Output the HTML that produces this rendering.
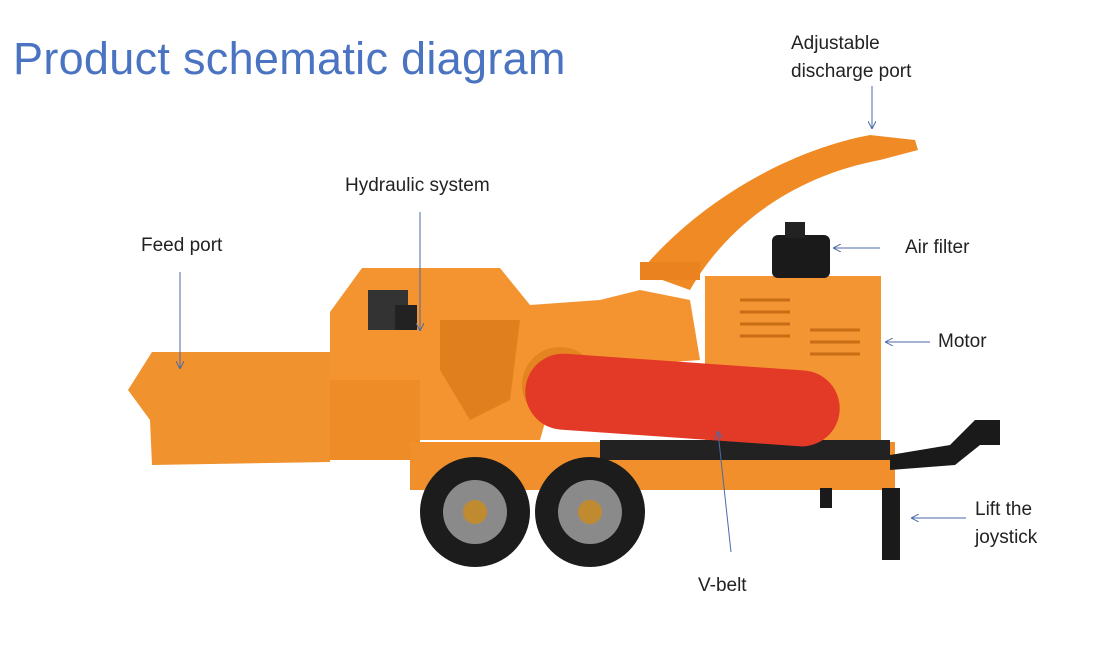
<!DOCTYPE html>
<html><head><meta charset="utf-8"><style>
html,body{margin:0;padding:0;background:#fff;}
body{width:1095px;height:667px;overflow:hidden;position:relative;font-family:"Liberation Sans",sans-serif;}
.t{position:absolute;color:#222;font-size:19px;line-height:28px;}
h1{position:absolute;left:13px;top:33px;margin:0;font-weight:normal;font-size:45px;color:#4a74c2;letter-spacing:0.3px;}
</style></head><body>
<h1>Product schematic diagram</h1>
<div class="t" style="left:791px;top:30px">Adjustable<br>discharge port</div>
<div class="t" style="left:345px;top:172px">Hydraulic system</div>
<div class="t" style="left:141px;top:232px">Feed port</div>
<div class="t" style="left:905px;top:234px">Air filter</div>
<div class="t" style="left:938px;top:328px">Motor</div>
<div class="t" style="left:975px;top:496px">Lift the<br>joystick</div>
<div class="t" style="left:698px;top:572px">V-belt</div>
<svg width="1095" height="667" style="position:absolute;left:0;top:0">
<defs><marker id="a" markerWidth="8" markerHeight="8" refX="7" refY="4" orient="auto"><path d="M0,0 L8,4 L0,8" fill="none" stroke="#4a6aa8" stroke-width="1"/></marker></defs>
<path d="M640,272 C700,200 790,150 870,135 L915,140 L918,150 L880,160 C800,175 730,220 690,290 Z" fill="#f08a25"/>
<rect x="640" y="262" width="60" height="18" fill="#e9821f"/>
<path d="M128,390 L152,352 L330,352 L330,462 L152,465 L150,420 Z" fill="#f0922d"/>
<path d="M330,312 L362,268 L500,268 L530,305 L600,300 L640,290 L690,300 L700,360 L560,370 L540,440 L415,440 L415,380 L330,380 Z" fill="#f39430"/>
<rect x="330" y="380" width="90" height="80" fill="#ee8c28"/>
<path d="M440,320 L520,320 L510,400 L470,420 L440,370 Z" fill="#e07f1e"/>
<circle cx="560" cy="385" r="38" fill="#e48420"/>
<rect x="705" y="276" width="176" height="168" fill="#f39532"/>
<g stroke="#c96d15" stroke-width="3">
<line x1="740" y1="300" x2="790" y2="300"/><line x1="740" y1="312" x2="790" y2="312"/><line x1="740" y1="324" x2="790" y2="324"/><line x1="740" y1="336" x2="790" y2="336"/>
<line x1="810" y1="330" x2="860" y2="330"/><line x1="810" y1="342" x2="860" y2="342"/><line x1="810" y1="354" x2="860" y2="354"/>
</g>
<rect x="772" y="235" width="58" height="43" rx="6" fill="#1a1a1a"/>
<rect x="785" y="222" width="20" height="16" fill="#222"/>
<rect x="368" y="290" width="40" height="40" fill="#333"/>
<rect x="395" y="305" width="22" height="25" fill="#222"/>
<rect x="410" y="442" width="485" height="48" fill="#f08f2c"/>
<rect x="600" y="440" width="290" height="20" fill="#222"/>
<rect x="525" y="362" width="315" height="76" rx="38" fill="#e23a26" transform="rotate(4 682 400)"/>
<circle cx="475" cy="512" r="55" fill="#1c1c1c"/><circle cx="475" cy="512" r="32" fill="#8a8a8a"/><circle cx="475" cy="512" r="12" fill="#c08a30"/>
<circle cx="590" cy="512" r="55" fill="#1c1c1c"/><circle cx="590" cy="512" r="32" fill="#8a8a8a"/><circle cx="590" cy="512" r="12" fill="#c08a30"/>
<path d="M890,455 L950,445 L975,420 L1000,420 L1000,445 L980,445 L955,465 L890,470 Z" fill="#1a1a1a"/>
<rect x="882" y="488" width="18" height="72" fill="#1a1a1a"/>
<rect x="820" y="488" width="12" height="20" fill="#1a1a1a"/>
<g stroke="#4a6aa8" stroke-width="1" fill="none">
<line x1="872" y1="86" x2="872" y2="128" marker-end="url(#a)"/>
<line x1="420" y1="212" x2="420" y2="330" marker-end="url(#a)"/>
<line x1="180" y1="272" x2="180" y2="368" marker-end="url(#a)"/>
<line x1="880" y1="248" x2="834" y2="248" marker-end="url(#a)"/>
<line x1="930" y1="342" x2="886" y2="342" marker-end="url(#a)"/>
<line x1="966" y1="518" x2="912" y2="518" marker-end="url(#a)"/>
<line x1="731" y1="552" x2="718" y2="432" marker-end="url(#a)"/>
</g>
</svg>
</body></html>
